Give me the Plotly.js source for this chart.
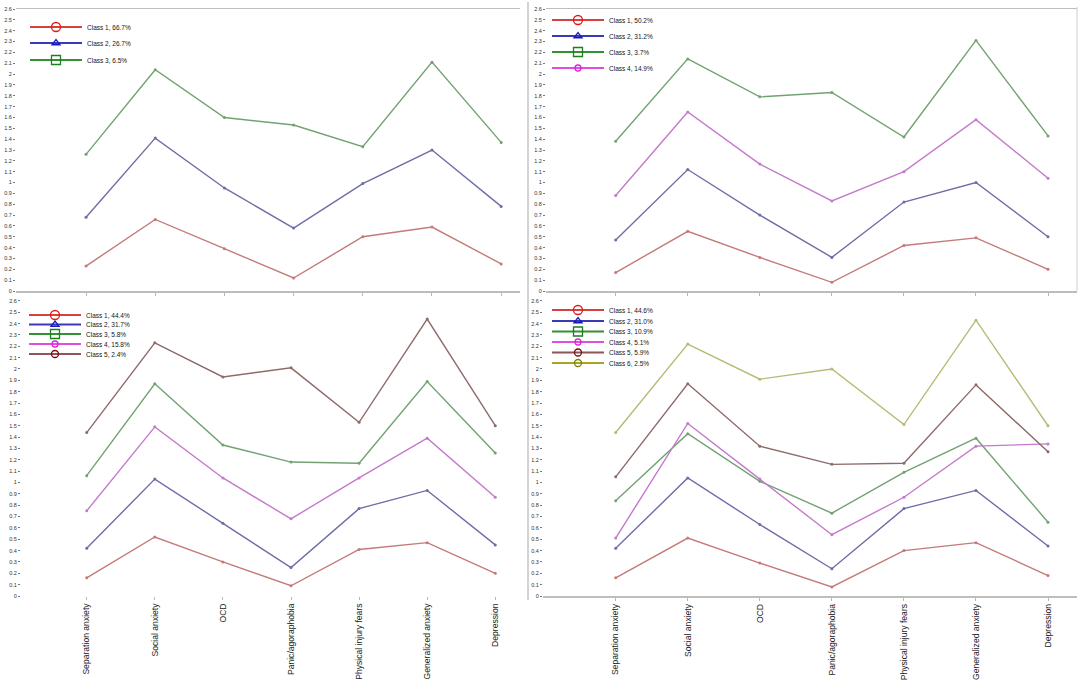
<!DOCTYPE html>
<html>
<head>
<meta charset="utf-8">
<script src="https://cdn.plot.ly/plotly-3.0.1.min.js"></script>
<style>
  html, body { margin: 0; padding: 0; background: #fff; }
  #chart { width: 1084px; height: 686px; }
</style>
</head>
<body>
<div id="chart"></div>
<script>
'use strict';

var categories = ['Separation anxiety', 'Social anxiety', 'OCD', 'Panic/agoraphobia',
                  'Physical injury fears', 'Generalized anxiety', 'Depression'];

// three-class solution (top left)
var p1Class1 = [0.23, 0.66, 0.39, 0.12, 0.50, 0.59, 0.25];
var p1Class2 = [0.68, 1.41, 0.95, 0.58, 0.99, 1.30, 0.78];
var p1Class3 = [1.26, 2.04, 1.60, 1.53, 1.33, 2.11, 1.37];
var p1Labels = ['Class 1, 66.7%', 'Class 2, 26.7%', 'Class 3, 6.5%'];

// four-class solution (top right)
var p2Class1 = [0.17, 0.55, 0.31, 0.08, 0.42, 0.49, 0.20];
var p2Class2 = [0.47, 1.12, 0.70, 0.31, 0.82, 1.00, 0.50];
var p2Class3 = [1.38, 2.14, 1.79, 1.83, 1.42, 2.31, 1.43];
var p2Class4 = [0.88, 1.65, 1.17, 0.83, 1.10, 1.58, 1.04];
var p2Labels = ['Class 1, 50.2%', 'Class 2, 31.2%', 'Class 3, 3.7%', 'Class 4, 14.9%'];

// five-class solution (bottom left)
var p3Class1 = [0.16, 0.52, 0.30, 0.09, 0.41, 0.47, 0.20];
var p3Class2 = [0.42, 1.03, 0.64, 0.25, 0.77, 0.93, 0.45];
var p3Class3 = [1.06, 1.87, 1.33, 1.18, 1.17, 1.89, 1.26];
var p3Class4 = [0.75, 1.49, 1.04, 0.68, 1.04, 1.39, 0.87];
var p3Class5 = [1.44, 2.23, 1.93, 2.01, 1.53, 2.44, 1.50];
var p3Labels = ['Class 1, 44.4%', 'Class 2, 31.7%', 'Class 3, 5.8%', 'Class 4, 15.8%', 'Class 5, 2.4%'];

// six-class solution (bottom right)
var p4Class1 = [0.16, 0.51, 0.29, 0.08, 0.40, 0.47, 0.18];
var p4Class2 = [0.42, 1.04, 0.63, 0.24, 0.77, 0.93, 0.44];
var p4Class3 = [0.84, 1.43, 1.01, 0.73, 1.09, 1.39, 0.65];
var p4Class4 = [0.51, 1.52, 1.03, 0.54, 0.87, 1.32, 1.34];
var p4Class5 = [1.05, 1.87, 1.32, 1.16, 1.17, 1.86, 1.27];
var p4Class6 = [1.44, 2.22, 1.91, 2.00, 1.51, 2.43, 1.50];
var p4Labels = ['Class 1, 44.6%', 'Class 2, 31.0%', 'Class 3, 10.9%', 'Class 4, 5.1%', 'Class 5, 5.9%', 'Class 6, 2.5%'];

// muted colours of the profile lines, brighter ones in the keys
var lineColors = ['#c47a78', '#6d6da8', '#72a272', '#c47acb', '#8e6a6a', '#b9b976'];
var keyLineColors = ['#d84040', '#3a3ab8', '#339033', '#e04ee0', '#8e5656', '#a6a624'];
var keyMarkerColors = ['#e01818', '#1818c0', '#1a801a', '#e020e0', '#7a0a0a', '#7e7e00'];
var keySymbols = ['circle-open', 'triangle-up-open', 'square-open', 'circle-open', 'circle-open', 'circle-open'];
var keySizes = [9, 7, 9, 6, 7, 7];

var W = 1084, H = 686;
var textFamily = 'Liberation Sans, Arial, sans-serif';

// plot boxes in pixels: [left, right, top, bottom]
var panels = [
    { series: [p1Class1, p1Class2, p1Class3], labels: p1Labels,
      box: [16, 520, 9, 291], xRange: [-1.012, 6.272], yMax: 2.6,
      keyX: 30, keyRows: [27, 43, 60], border: true, xLabels: false },
    { series: [p2Class1, p2Class2, p2Class3, p2Class4], labels: p2Labels,
      box: [546, 1077, 9, 291], xRange: [-0.967, 6.402], yMax: 2.6,
      keyX: 552, keyRows: [20, 36, 52, 68], border: true, xLabels: false },
    { series: [p3Class1, p3Class2, p3Class3, p3Class4, p3Class5], labels: p3Labels,
      box: [21, 520, 291, 596], xRange: [-0.965, 6.363], yMax: 2.687,
      keyX: 29, keyRows: [315, 324.5, 334, 344, 354], border: false, xLabels: true },
    { series: [p4Class1, p4Class2, p4Class3, p4Class4, p4Class5, p4Class6], labels: p4Labels,
      box: [543, 1077, 291, 596], xRange: [-1.009, 6.402], yMax: 2.687,
      keyX: 552, keyRows: [310, 321, 331.5, 342, 352.5, 363], border: false, xLabels: true }
];

var data = [];
var layout = {
    width: W,
    height: H,
    margin: { l: 0, r: 0, t: 0, b: 0 },
    paper_bgcolor: '#fff',
    plot_bgcolor: 'rgba(0,0,0,0)',
    showlegend: true,
    shapes: [
        { type: 'line', xref: 'paper', yref: 'paper', x0: 528 / W, x1: 528 / W, y0: 1 - 2 / H, y1: 1 - 600 / H,
          line: { color: '#c4c4c4', width: 1.5 } },
        { type: 'line', xref: 'paper', yref: 'paper', x0: 1077 / W, x1: 1077 / W, y0: 1 - 7 / H, y1: 1 - 291 / H,
          line: { color: '#d0d0d0', width: 1 } }
    ]
};

var legendCount = 0;

panels.forEach(function(p, n) {
    var sfx = n === 0 ? '' : String(n + 1);
    var xa = 'x' + sfx, ya = 'y' + sfx;

    p.series.forEach(function(vals, i) {
        data.push({
            x: categories,
            y: vals,
            xaxis: xa,
            yaxis: ya,
            type: 'scatter',
            mode: 'lines+markers',
            line: { color: lineColors[i], width: 1.4 },
            marker: { size: 3, color: lineColors[i] },
            name: p.labels[i],
            showlegend: false
        });

        // key entry, one legend per row so the spacing can follow the picture
        legendCount++;
        var legId = legendCount === 1 ? 'legend' : 'legend' + legendCount;
        data.push({
            x: [null],
            y: [null],
            xaxis: xa,
            yaxis: ya,
            type: 'scatter',
            mode: 'lines+markers',
            name: p.labels[i],
            legend: legId,
            line: { color: keyLineColors[i], width: 2.2 },
            marker: { symbol: keySymbols[i], size: keySizes[i], color: keyMarkerColors[i],
                      line: { width: 1.3, color: keyMarkerColors[i] } },
            showlegend: true,
            hoverinfo: 'skip'
        });
        layout[legId] = {
            x: (p.keyX - 5) / W,
            y: 1 - p.keyRows[i] / H,
            xanchor: 'left',
            yanchor: 'middle',
            bgcolor: 'rgba(0,0,0,0)',
            borderwidth: 0,
            itemwidth: 52,
            itemclick: false,
            itemdoubleclick: false,
            font: { family: textFamily, size: 6.5, color: '#151515' }
        };
    });

    layout['xaxis' + sfx] = {
        domain: [p.box[0] / W, p.box[1] / W],
        anchor: ya,
        type: 'category',
        range: p.xRange,
        showgrid: false,
        zeroline: false,
        showline: p.border || n === 3,
        mirror: p.border,
        linecolor: '#bdbdbd',
        linewidth: 1.5,
        ticks: 'outside',
        ticklen: 3,
        tickcolor: '#b8b8b8',
        showticklabels: p.xLabels,
        tickangle: -90,
        tickfont: { family: textFamily, size: 8.6, color: '#222' },
        fixedrange: true
    };
    layout['yaxis' + sfx] = {
        domain: [1 - p.box[3] / H, 1 - p.box[2] / H],
        anchor: xa,
        range: [0, p.yMax],
        tick0: 0,
        dtick: 0.1,
        showgrid: false,
        zeroline: false,
        showline: false,
        ticks: 'outside',
        ticklen: 2,
        tickcolor: '#777',
        tickfont: { family: textFamily, size: 5.5, color: '#333' },
        fixedrange: true
    };
});

Plotly.newPlot('chart', data, layout, { displayModeBar: false, staticPlot: true });
</script>
</body>
</html>
